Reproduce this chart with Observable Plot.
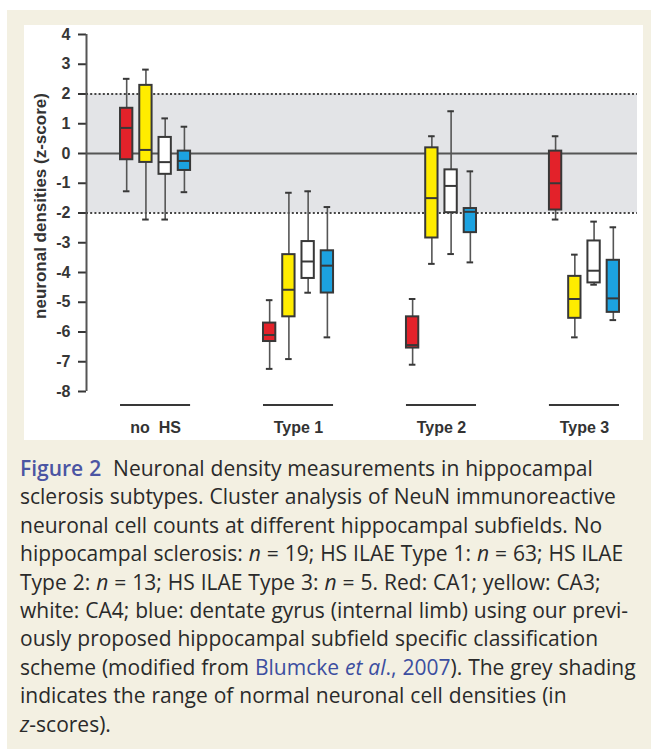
<!DOCTYPE html>
<html>
<head>
<meta charset="utf-8">
<script src="https://cdn.jsdelivr.net/npm/d3@7"></script>
<script src="https://cdn.jsdelivr.net/npm/@observablehq/plot@0.6"></script>
<style>
  html, body { margin: 0; padding: 0; background: #ffffff; }
  body { width: 651px; height: 749px; position: relative; overflow: hidden; }
  #cream { position: absolute; left: 7px; top: 10px; width: 644px; height: 739px; background: #f3f0e2; }
  #chart { position: absolute; left: 24px; top: 25px; width: 619px; height: 415px; background: #ffffff; }
  #chart svg { display: block; }
  #chart svg [aria-label^="y-axis"] line,
  #chart svg [aria-label^="y-axis"] path { stroke-width: 2px; }
  #caption { position: absolute; left: 20px; top: 454px; font-family: "Open Sans", "Noto Sans", sans-serif; font-size: 21px; word-spacing: 0.5px; line-height: 28.4px; color: #2a2a2a; }
  #caption div { white-space: nowrap; }
  .fig { color: #4b55a3; font-weight: 600; }
  .lnk { color: #3c4ea0; }
</style>
</head>
<body>
<div id="cream"></div>
<div id="chart"></div>
<div id="caption">
  <div><span class="fig">Figure 2</span>&nbsp; Neuronal density measurements in hippocampal</div>
  <div>sclerosis subtypes. Cluster analysis of NeuN immunoreactive</div>
  <div>neuronal cell counts at different hippocampal subfields. No</div>
  <div>hippocampal sclerosis: <i>n</i> = 19; HS ILAE Type 1: <i>n</i> = 63; HS ILAE</div>
  <div>Type 2: <i>n</i> = 13; HS ILAE Type 3: <i>n</i> = 5. Red: CA1; yellow: CA3;</div>
  <div>white: CA4; blue: dentate gyrus (internal limb) using our previ-</div>
  <div>ously proposed hippocampal subfield specific classification</div>
  <div>scheme (modified from <span class="lnk">Blumcke <i>et al</i>., 2007</span>). The grey shading</div>
  <div>indicates the range of normal neuronal cell densities (in</div>
  <div><i>z</i>-scores).</div>
</div>
<script>
// ---- data ----
const groups = ["no HS", "Type 1", "Type 2", "Type 3"];
const groupLabels = ["no\u00a0 HS", "Type 1", "Type 2", "Type 3"];
const subfields = ["CA1", "CA3", "CA4", "DG"];
const subfieldColors = ["#e3222a", "#ffec00", "#ffffff", "#1ca2e0"];
// five-number summaries per group: [low whisker, Q1, median, Q3, high whisker]
const ca1 = [[-1.27, -0.21, 0.86, 1.52, 2.51], [-7.24, -6.32, -6.10, -5.70, -4.93], [-7.10, -6.54, -6.44, -5.49, -4.89], [-2.22, -1.90, -1.00, 0.08, 0.58]];
const ca3 = [[-2.22, -0.30, 0.12, 2.29, 2.82], [-6.91, -5.49, -4.58, -3.40, -1.32], [-3.71, -2.84, -1.50, 0.19, 0.58], [-6.18, -5.54, -4.89, -4.13, -3.40]];
const ca4 = [[-2.22, -0.70, -0.29, 0.54, 1.18], [-4.68, -4.20, -3.63, -2.96, -1.27], [-3.38, -1.99, -1.09, -0.55, 1.42], [-4.41, -4.35, -3.94, -2.94, -2.29]];
const dg  = [[-1.30, -0.57, -0.25, 0.08, 0.90], [-6.18, -4.69, -3.77, -3.27, -1.80], [-3.66, -2.66, -1.96, -1.85, -0.60], [-5.60, -5.34, -4.87, -3.59, -2.48]];
const normalRange = [-2, 2];
const yTicks = [4, 3, 2, 1, 0, -1, -2, -3, -4, -5, -6, -7, -8];
const yLabel = "neuronal densities (z-score)";

// ---- build table ----
const series = [ca1, ca3, ca4, dg];
const rows = [];
series.forEach((s, si) => s.forEach((v, gi) => rows.push({
  group: groups[gi], gi, subfield: subfields[si],
  low: v[0], q1: v[1], median: v[2], q3: v[3], high: v[4]
})));

// layout of subfields within a group (in x-scale units, one unit per group)
const halfGroup = 0.245;
const sub = d3.scaleBand().domain(subfields).range([-halfGroup, halfGroup]).paddingInner(0.36).paddingOuter(0);
const bx1 = d => d.gi + sub(d.subfield);
const bx2 = d => d.gi + sub(d.subfield) + sub.bandwidth();
const bxc = d => d.gi + sub(d.subfield) + sub.bandwidth() / 2;
const capHalf = 0.023;
const xDomain = [-0.483, 3.371];
const yExt = d3.extent(yTicks);

const dark = "#383838";
const mid = "#555555";

const chart = Plot.plot({
  width: 619,
  height: 415,
  marginLeft: 62,
  marginRight: 6,
  marginTop: 9,
  marginBottom: 49,
  style: { background: "#ffffff", fontFamily: "'Liberation Sans', Arial, sans-serif", fontSize: "16px", fontWeight: "bold", color: "#363636", overflow: "visible" },
  x: { type: "linear", domain: xDomain, axis: null },
  y: { domain: [yExt[0], yExt[1]], ticks: yTicks, tickSize: 8, tickPadding: 8, tickFormat: d => `${d}`, label: null },
  color: { domain: subfields, range: subfieldColors },
  marks: [
    Plot.rect([normalRange], { x1: xDomain[0], x2: xDomain[1], y1: d => d[0], y2: d => d[1], fill: "#e3e4e7" }),
    Plot.ruleY(normalRange, { stroke: "#444", strokeWidth: 2, strokeDasharray: "2,2.2" }),
    Plot.ruleY([0], { stroke: mid, strokeWidth: 2 }),
    // whiskers
    Plot.ruleX(rows, { x: bxc, y1: "q3", y2: "high", stroke: mid, strokeWidth: 1.6 }),
    Plot.ruleX(rows, { x: bxc, y1: "low", y2: "q1", stroke: mid, strokeWidth: 1.6 }),
    // caps
    Plot.ruleY(rows, { y: "high", x1: d => bxc(d) - capHalf, x2: d => bxc(d) + capHalf, stroke: dark, strokeWidth: 2 }),
    Plot.ruleY(rows, { y: "low", x1: d => bxc(d) - capHalf, x2: d => bxc(d) + capHalf, stroke: dark, strokeWidth: 2 }),
    // boxes
    Plot.rect(rows, { x1: bx1, x2: bx2, y1: "q1", y2: "q3", fill: "subfield", stroke: dark, strokeWidth: 2 }),
    Plot.ruleY(rows, { y: "median", x1: bx1, x2: bx2, stroke: dark, strokeWidth: 2 }),
    // group underlines & labels
    Plot.ruleY(groups, { y: -8.45, x1: (d, i) => i - halfGroup, x2: (d, i) => i + halfGroup, stroke: dark, strokeWidth: 2 }),
    Plot.text(groups, { x: (d, i) => i, y: -8.45, dy: 23, text: (d, i) => groupLabels[i], fontSize: 16, fontWeight: "bold", fill: "#333" }),
    // y axis line
    Plot.ruleX([xDomain[0]], { y1: yExt[0], y2: yExt[1], stroke: mid, strokeWidth: 2 }),
    // y label
    Plot.text([yLabel], { frameAnchor: "left", textAnchor: "middle", dx: -46, dy: -7, rotate: -90, text: d => d, fontSize: 17, fontWeight: "bold", fill: "#333" })
  ]
});
document.getElementById("chart").appendChild(chart);
</script>
</body>
</html>
